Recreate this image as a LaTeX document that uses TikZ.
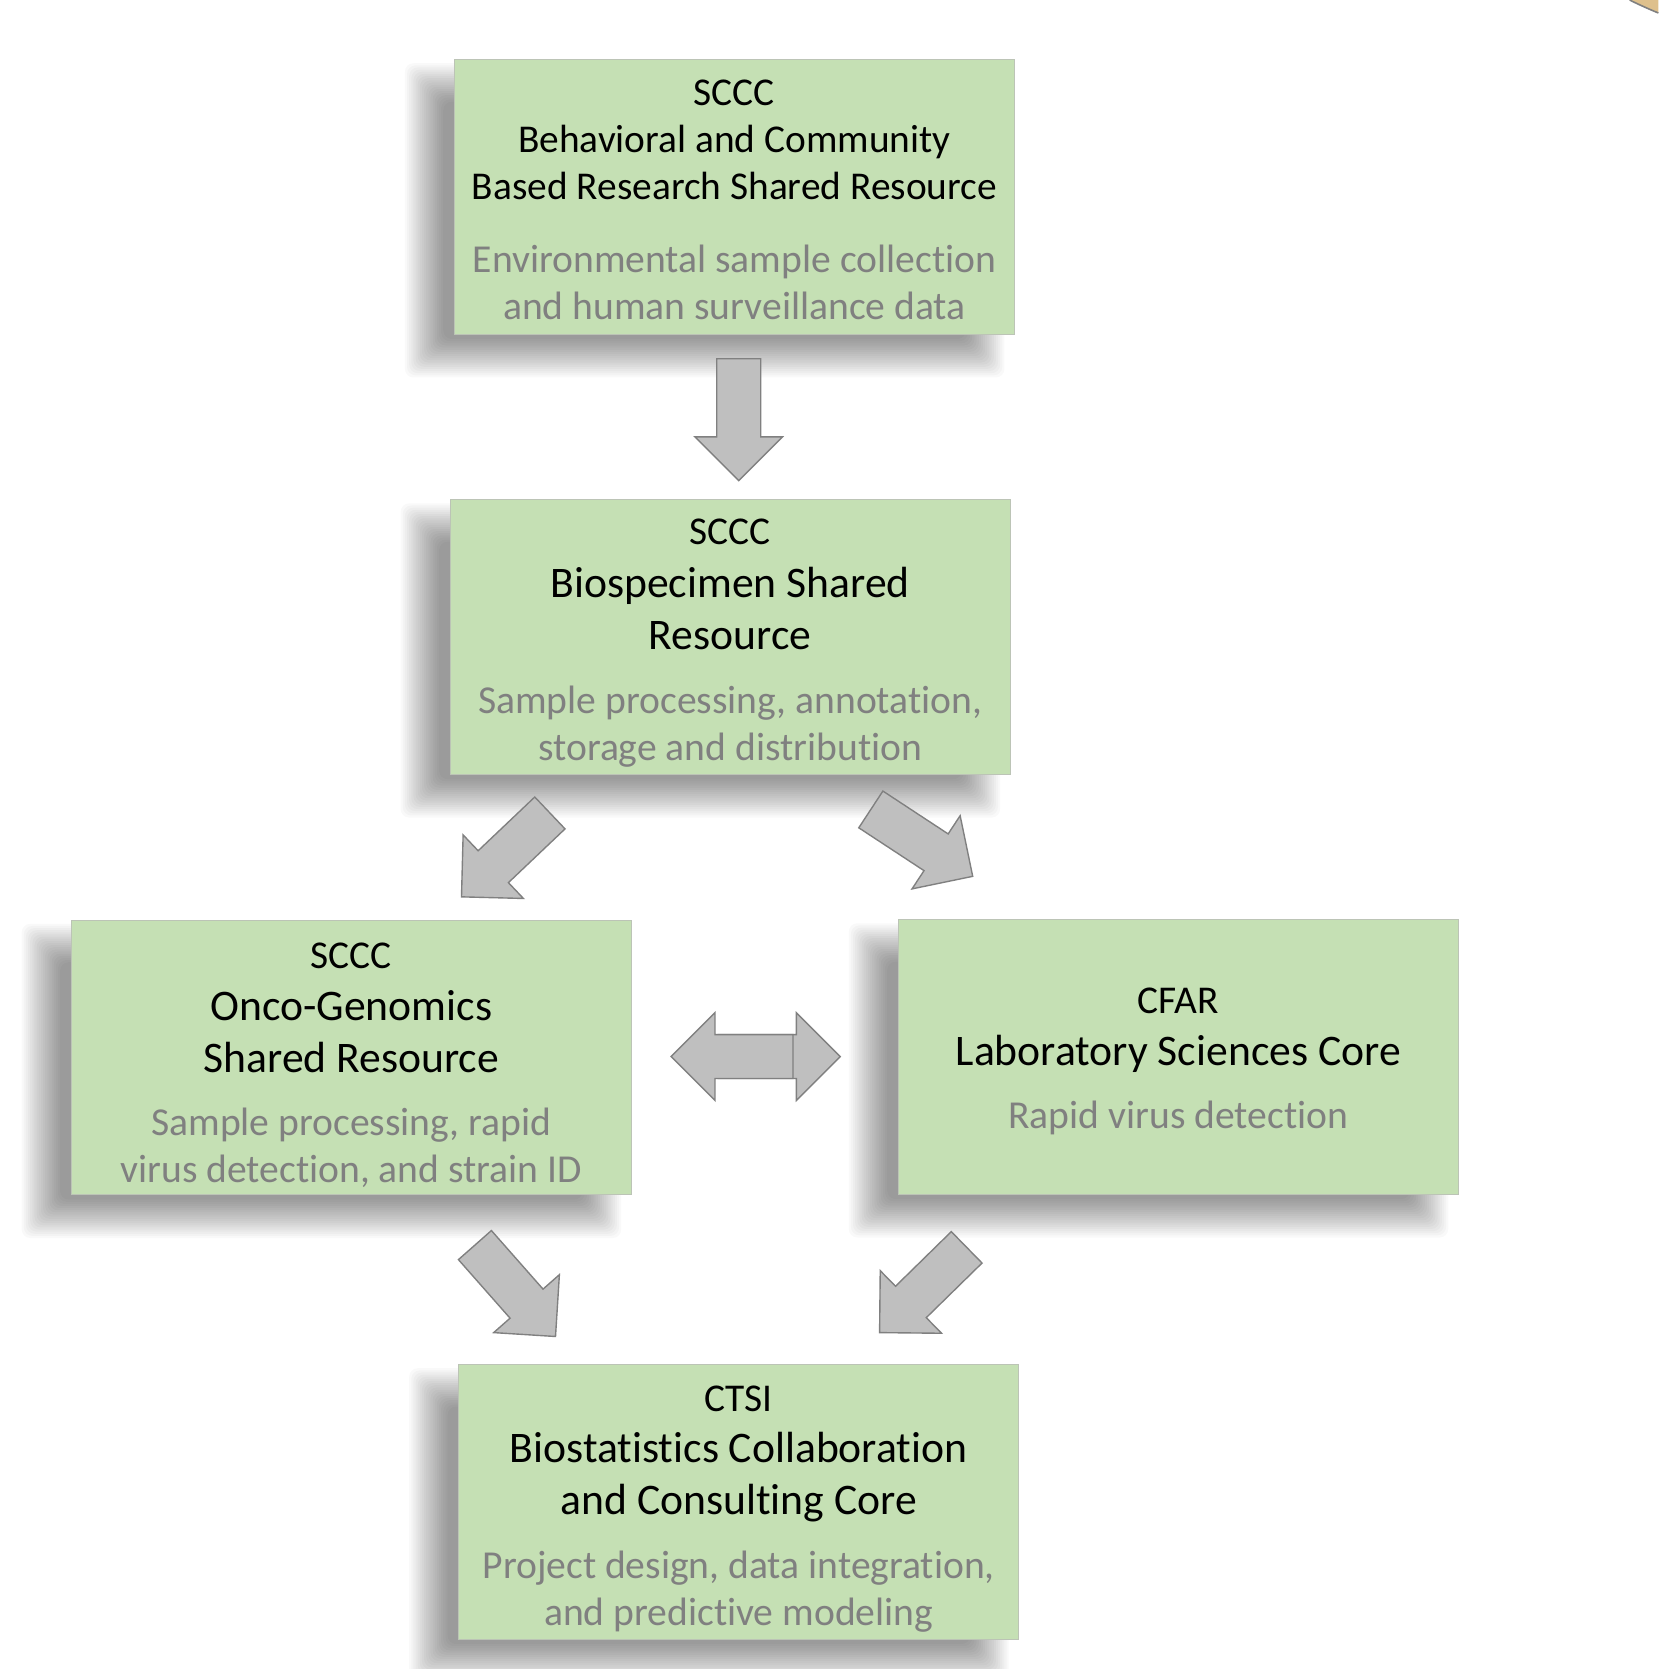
\documentclass[tikz,border=0pt]{standalone}
\usepackage{fontspec}
\setmainfont{Carlito}[Ligatures=NoCommon]
\usetikzlibrary{shapes.arrows}
\definecolor{boxgreen}{RGB}{197,224,180}
\definecolor{boxedge}{RGB}{188,196,182}
\definecolor{subgrey}{RGB}{128,128,128}
\definecolor{arrfill}{RGB}{191,191,191}
\definecolor{arredge}{RGB}{128,128,128}
\definecolor{tanfill}{RGB}{222,192,140}
\pgfdeclarelayer{shadowlayer}
\pgfsetlayers{shadowlayer,main}
\begin{document}
\begin{tikzpicture}[x=1pt,y=-1pt,
  box/.style={draw=boxedge, line width=1.2pt, fill=boxgreen, minimum width=526pt, minimum height=258pt, inner sep=0pt},
  hdr/.style={anchor=base, font=\fontsize{37}{44}\selectfont, inner sep=0pt},
  ttl/.style={anchor=base, font=\fontsize{41}{49}\selectfont, inner sep=0pt},
  ttls/.style={anchor=base, font=\fontsize{37}{44}\selectfont, inner sep=0pt},
  sub/.style={anchor=base, font=\fontsize{37.2}{44}\selectfont, text=subgrey, inner sep=0pt},
  blockarr/.style={single arrow, single arrow tip angle=90, single arrow head extend=20.5pt, inner sep=20pt,
    minimum height=114.5pt, minimum width=0pt, fill=arrfill, draw=arredge, line width=1.3pt, anchor=tip},
  shadowstep/.style={fill=black, fill opacity=0.022, rounded corners=8pt}
]
\useasboundingbox (0,0) rectangle (1558,1568);

% corner decoration
\fill[tanfill] (1531,0) .. controls (1540,4.5) and (1549,8.5) .. (1558,12.2) -- (1558,0) -- cycle;
\draw[arredge, line width=1.5pt] (1531,0) .. controls (1540,4.5) and (1549,8.5) .. (1558,12.2);

% boxes
\node[box] (b1) at (690,185) {};
\node[box] (b2) at (686,598.5) {};
\node[box] (b3) at (330,993.5) {};
\node[box] (b4) at (1107,993) {};
\node[box] (b5) at (694,1411) {};

% soft shadows behind the boxes
\begin{pgfonlayer}{shadowlayer}
\fill[white] (0,0) rectangle (1558,1568);
\foreach \b in {b1,b2,b3,b4,b5}{
  \foreach \e in {-18,-16,...,18}{
    \fill[shadowstep] ([shift={(-28-\e,22-\e)}]\b.north west) rectangle ([shift={(-28+\e,22+\e)}]\b.south east);
  }
}
\end{pgfonlayer}

% box 1 text
\node[hdr]  (b1h)  at (690,99)  {SCCC};
\node[ttls] (b1t1) at (690,143) {Behavioral and Community};
\node[ttls] (b1t2) at (690,187) {Based Research Shared Resource};
\node[sub]  (b1s1) at (690,256) {Environmental sample collection};
\node[sub]  (b1s2) at (690,300) {and human surveillance data};

% box 2 text
\node[hdr] (b2h)  at (686,512) {SCCC};
\node[ttl] (b2t1) at (686,561) {Biospecimen Shared};
\node[ttl] (b2t2) at (686,610) {Resource};
\node[sub] (b2s1) at (686,670) {Sample processing, annotation,};
\node[sub] (b2s2) at (686,714) {storage and distribution};

% box 3 text
\node[hdr] (b3h)  at (330,910)  {SCCC};
\node[ttl] (b3t1) at (330,959)  {Onco-Genomics};
\node[ttl] (b3t2) at (330,1008) {Shared Resource};
\node[sub] (b3s1) at (330,1067) {Sample processing, rapid};
\node[sub] (b3s2) at (330,1111) {virus detection, and strain ID};

% box 4 text
\node[hdr] (b4h)  at (1107,952)  {CFAR};
\node[ttl] (b4t1) at (1107,1001) {Laboratory Sciences Core};
\node[sub] (b4s1) at (1107,1060) {Rapid virus detection};

% box 5 text
\node[hdr] (b5h)  at (694,1326) {CTSI};
\node[ttl] (b5t1) at (694,1374) {Biostatistics Collaboration};
\node[ttl] (b5t2) at (694,1423) {and Consulting Core};
\node[sub] (b5s1) at (694,1483) {Project design, data integration,};
\node[sub] (b5s2) at (694,1527) {and predictive modeling};

% block arrows
\node[blockarr, rotate=-90]   (a12)  at (694,452.5)   {};
\node[blockarr, rotate=223.5] (a23)  at (432.9,843.2) {};
\node[blockarr, rotate=-33.3] (a24)  at (914.6,823.8) {};
\node[blockarr, rotate=0]     (a34r) at (790.3,992.6) {};
\node[blockarr, rotate=180]   (a34l) at (629.6,992.6) {};
\node[blockarr, rotate=-48.6] (a35)  at (522.5,1256.3) {};
\node[blockarr, rotate=224.4] (a45)  at (825.7,1252.6) {};
\end{tikzpicture}
\end{document}
